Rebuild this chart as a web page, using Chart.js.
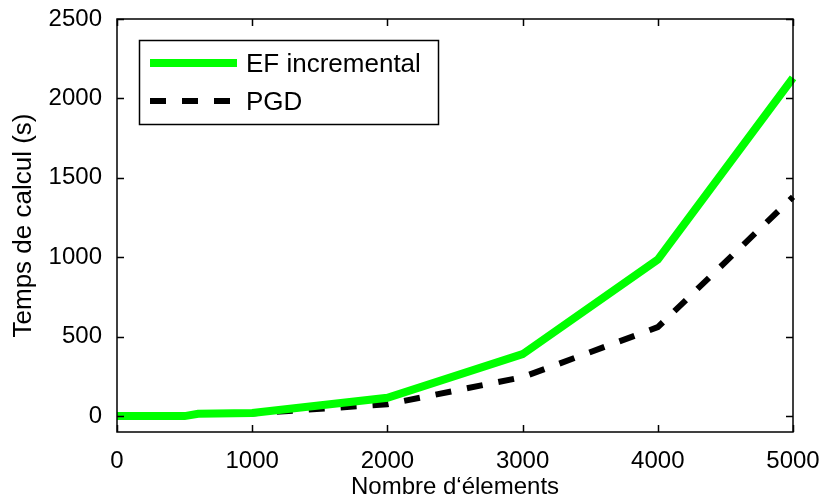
<!DOCTYPE html>
<html>
<head>
<meta charset="utf-8">
<script src="https://cdn.jsdelivr.net/npm/chart.js@4.4.0/dist/chart.umd.min.js"></script>
<style>
  html, body { margin: 0; padding: 0; background: #fff; }
  canvas { display: block; }
</style>
</head>
<body>
<canvas id="chart" width="825" height="499"></canvas>
<script>
// Valeurs
const nbElements = [0, 500, 600, 1000, 2000, 3000, 4000, 5000];
const tempsEF = [0, 0, 15, 20, 115, 390, 985, 2130];
const tempsPGD = [0, 0, 14, 17, 75, 245, 560, 1380];
const xTicks = [0, 1000, 2000, 3000, 4000, 5000];
const yTicks = [0, 500, 1000, 1500, 2000, 2500];
const seriesLabels = ['EF incremental', 'PGD'];

const toPoints = (xs, ys) => xs.map((x, i) => ({ x: x, y: ys[i] }));

const sansFont = "'Liberation Sans', Arial, sans-serif";
const narrowFont = "'Liberation Sans Narrow', 'Liberation Sans', Arial, sans-serif";

// Cadre façon MATLAB : bordure, graduations vers l'intérieur et légende
const matlabBox = {
  id: 'matlabBox',
  afterDraw(chart) {
    const { ctx, chartArea: a, scales } = chart;
    const tick = 7;
    ctx.save();
    ctx.strokeStyle = '#000';
    ctx.lineWidth = 1.5;
    ctx.beginPath();
    xTicks.forEach(v => {
      const px = Math.round(scales.x.getPixelForValue(v)) + 0.5;
      ctx.moveTo(px, a.bottom); ctx.lineTo(px, a.bottom - tick);
      ctx.moveTo(px, a.top); ctx.lineTo(px, a.top + tick);
    });
    yTicks.forEach(v => {
      const py = Math.round(scales.y.getPixelForValue(v)) + 0.5;
      ctx.moveTo(a.left, py); ctx.lineTo(a.left + tick, py);
      ctx.moveTo(a.right, py); ctx.lineTo(a.right - tick, py);
    });
    ctx.stroke();
    ctx.strokeRect(a.left, a.top, a.right - a.left, a.bottom - a.top);

    // légende
    const bx = 139.5, by = 40.5, bw = 299, bh = 84;
    ctx.fillStyle = '#fff';
    ctx.fillRect(bx, by, bw, bh);
    ctx.strokeRect(bx, by, bw, bh);
    const rows = [63, 101];
    chart.data.datasets.forEach((ds, i) => {
      ctx.save();
      ctx.strokeStyle = ds.borderColor;
      ctx.lineWidth = ds.borderWidth;
      ctx.setLineDash(ds.borderDash || []);
      ctx.beginPath();
      ctx.moveTo(150, rows[i]);
      ctx.lineTo(237, rows[i]);
      ctx.stroke();
      ctx.restore();
      ctx.fillStyle = '#000';
      ctx.font = '26px ' + sansFont;
      ctx.textAlign = 'left';
      ctx.textBaseline = 'middle';
      ctx.fillText(ds.label, 246, rows[i] + 2);
    });
    ctx.restore();
  }
};

new Chart(document.getElementById('chart'), {
  type: 'line',
  data: {
    datasets: [
      {
        label: seriesLabels[0],
        data: toPoints(nbElements, tempsEF),
        borderColor: '#00ff00',
        borderWidth: 8,
        pointRadius: 0,
        tension: 0,
        clip: false
      },
      {
        label: seriesLabels[1],
        data: toPoints(nbElements, tempsPGD),
        borderColor: '#000000',
        borderWidth: 6,
        borderDash: [16, 16],
        pointRadius: 0,
        tension: 0,
        clip: false
      }
    ]
  },
  options: {
    responsive: false,
    animation: false,
    layout: { padding: { top: 19, right: 32, left: 0, bottom: 0 } },
    plugins: {
      legend: { display: false },
      tooltip: { enabled: false }
    },
    scales: {
      x: {
        type: 'linear',
        position: 'bottom',
        min: 0,
        max: 5000,
        afterBuildTicks: s => { s.ticks = xTicks.map(v => ({ value: v })); },
        afterFit: s => { s.height = 67; s.paddingLeft = 0; s.paddingRight = 0; },
        grid: { display: false },
        border: { display: false },
        ticks: {
          color: '#000',
          padding: 7,
          maxRotation: 0,
          autoSkip: false,
          font: { family: narrowFont, size: 24 },
          callback: v => String(v)
        },
        title: {
          display: true,
          text: 'Nombre d‘élements',
          color: '#000',
          font: { family: narrowFont, size: 24 },
          padding: { top: 0, bottom: -3 }
        }
      },
      y: {
        type: 'linear',
        min: -100,
        max: 2500,
        afterBuildTicks: s => { s.ticks = yTicks.map(v => ({ value: v })); },
        afterFit: s => { s.width = 117; s.paddingTop = 0; s.paddingBottom = 0; },
        grid: { display: false },
        border: { display: false },
        ticks: {
          color: '#000',
          padding: 7,
          autoSkip: false,
          font: { family: sansFont, size: 24 },
          callback: v => String(v)
        },
        title: {
          display: true,
          text: 'Temps de calcul (s)',
          color: '#000',
          font: { family: sansFont, size: 26 },
          padding: { top: 8, bottom: 0 }
        }
      }
    }
  },
  plugins: [matlabBox]
});
</script>
</body>
</html>
